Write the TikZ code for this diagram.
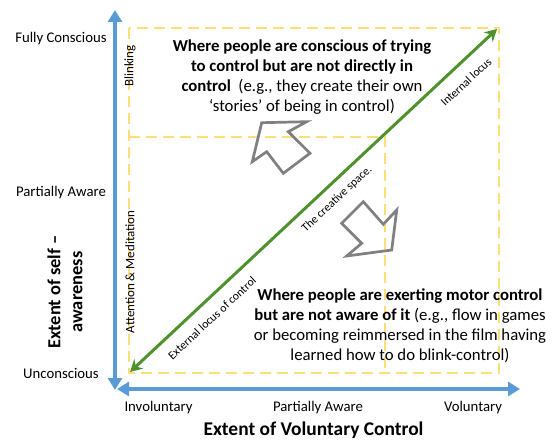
\documentclass[tikz,border=0pt]{standalone}
\usepackage{fontspec}
\setmainfont{Carlito}
\usetikzlibrary{arrows.meta}
\definecolor{axisblue}{RGB}{91,155,213}
\definecolor{locusgreen}{RGB}{78,145,45}
\definecolor{dashyellow}{RGB}{255,222,120}
\definecolor{arrowgray}{RGB}{128,128,128}
\tikzset{
  axisline/.style={draw=axisblue, line width=4bp,
    {Triangle[length=12bp,width=14bp]}-{Triangle[length=12bp,width=14bp]}},
  locusline/.style={draw=locusgreen, line width=3bp,
    {Stealth[length=12bp,width=13bp,inset=4bp]}-{Stealth[length=12bp,width=13bp,inset=4bp]}},
  dashline/.style={draw=dashyellow, line width=2.6bp, dash pattern=on 11bp off 6bp},
  blockarrow/.style={draw=arrowgray, line width=2.7bp, line join=miter},
  levellabel/.style={font=\fontsize{14.8}{18}\selectfont, inner sep=0pt},
  axistitle/.style={font=\fontsize{19.5}{22}\selectfont\bfseries, inner sep=0pt},
  sidetitle/.style={font=\fontsize{18.5}{22}\selectfont\bfseries, inner sep=0pt, align=center, rotate=90},
  blocktext/.style={font=\fontsize{16.8}{20}\selectfont, inner sep=0pt, align=center},
  sidelabel/.style={font=\fontsize{13}{15}\selectfont, inner sep=0pt, rotate=90},
  diaglabel/.style={font=\fontsize{11.8}{14}\selectfont, inner sep=0pt, rotate=43}
}
\begin{document}
\begin{tikzpicture}[x=1bp,y=-1bp]
\useasboundingbox (0,0) rectangle (554,440);

% dashed regions
\coordinate (boxtl) at (129,28);
\coordinate (boxbr) at (499,373);
\coordinate (midl) at (129,137);
\coordinate (midc) at (385,137);
\coordinate (midb) at (385,373);
\draw[dashline] (boxtl) rectangle (boxbr);
\draw[dashline] (midl) -- (midc) -- (midb);

% axes
\coordinate (vtop) at (115,10);
\coordinate (vbot) at (115,390);
\coordinate (hleft) at (117,389);
\coordinate (hright) at (520,389);
\draw[axisline] (vbot) -- (vtop);
\draw[axisline] (hleft) -- (hright);

% locus line
\coordinate (gstart) at (130,372);
\coordinate (gend) at (497,29);
\draw[locusline] (gstart) -- (gend);

% block arrows
\draw[blockarrow] (261.7,122.7) -- (306.7,121.7) -- (288.3,131.7) -- (310,153.3)
  -- (283.3,173.3) -- (266.7,151.7) -- (252.3,161.7) -- cycle;
\draw[blockarrow] (341.7,223.3) -- (363.3,201.7) -- (383.3,224.3) -- (396.7,210)
  -- (391.7,250) -- (346.7,256) -- (361.7,243.3) -- cycle;

% level labels
\node[levellabel] (fc) at (61,39) {Fully Conscious};
\node[levellabel] (pa) at (61,193) {Partially Aware};
\node[levellabel] (uc) at (61,373) {Unconscious};
\node[levellabel] (inv) at (158.5,408) {Involuntary};
\node[levellabel] (pax) at (318,408) {Partially Aware};
\node[levellabel] (vol) at (473,408) {Voluntary};

% titles
\node[axistitle] (xtitle) at (313.5,430) {Extent of Voluntary Control};
\node[sidetitle] (ytitle) at (65,292) {Extent of self –\\awareness};

% side labels
\node[sidelabel] (blink) at (130,66) {Blinking};
\node[sidelabel] (attn) at (130,272) {Attention \& Meditation};

% diagonal labels
\node[diaglabel] (intl) at (466,82) {Internal locus};
\node[diaglabel] (creat) at (337,199) {The creative space.};
\node[diaglabel] (extl) at (212,318) {External locus of control};

% block texts
\node[blocktext] (toptext) at (302,77) {\textbf{Where people are conscious of trying}\\
  \textbf{to control but are not directly in}\\
  \textbf{control}\ \ (e.g., they create their own\\
  ‘stories’ of being in control)};
\node[blocktext] (bottext) at (400,325.5) {\textbf{Where people are exerting motor control}\\
  \textbf{but are not aware of it} (e.g., flow in games\\
  or becoming reimmersed in the film having\\
  learned how to do blink-control)};
\end{tikzpicture}
\end{document}
